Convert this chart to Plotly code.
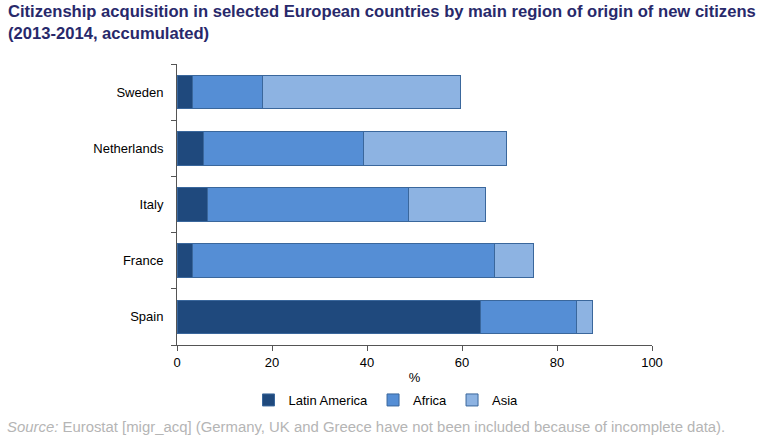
import plotly.graph_objects as go

countries = ["Spain", "France", "Italy", "Netherlands", "Sweden"]
latin_america = [63.8, 3.2, 6.5, 5.5, 3.2]
africa = [20.3, 63.6, 42.2, 33.7, 14.7]
asia = [3.3, 8.3, 16.3, 30.1, 41.8]
x_ticks = [0, 20, 40, 60, 80, 100]

series = [
    ("Latin America", latin_america, "#1f497d"),
    ("Africa", africa, "#558ed5"),
    ("Asia", asia, "#8db3e2"),
]

# plot area, in page pixels (body margin removed below)
L, T = 177, 64
PW, PH = 475, 281
R, B = 763 - L - PW, 436 - T - PH


def px_x(sx):
    return (sx - L) / PW


def px_y(sy):
    return 1 - (sy - T) / PH


fig = go.Figure()
for name, vals, color in series:
    fig.add_trace(go.Bar(
        y=countries, x=vals, name=name, orientation="h",
        marker=dict(color=color, line=dict(color="#3a679c", width=1)),
    ))

fig.update_layout(
    barmode="stack",
    bargap=0.4,
    width=763, height=436,
    margin=dict(l=L, r=R, t=T, b=B, autoexpand=False),
    paper_bgcolor="white", plot_bgcolor="white",
    font=dict(family="Liberation Sans, Arial, sans-serif", size=13, color="black"),
    showlegend=True,
    legend=dict(
        orientation="h", x=px_x(386), xanchor="center",
        y=px_y(400), yanchor="middle",
        font=dict(size=13), traceorder="normal",
        itemwidth=30, tracegroupgap=0,
    ),
    xaxis=dict(
        range=[0, 100], tickvals=x_ticks, showgrid=False,
        showline=True, linecolor="#555555", linewidth=1,
        ticks="outside", ticklen=5, tickcolor="#555555",
        title=dict(text="%", standoff=4, font=dict(size=13)),
        zeroline=False,
    ),
    yaxis=dict(
        showgrid=False, showline=True, linecolor="#555555", linewidth=1,
        ticks="outside", ticklen=5, tickcolor="#555555",
        tickson="boundaries", ticklabelstandoff=10,
    ),
    annotations=[
        dict(
            text="<b>Citizenship acquisition in selected European countries by main region of origin of new citizens<br>(2013-2014, accumulated)</b>",
            xref="paper", yref="paper", x=px_x(6), y=px_y(0),
            xanchor="left", yanchor="top", align="left", showarrow=False,
            font=dict(family="Liberation Sans, Arial, sans-serif", size=16.6, color="#28296b"),
        ),
        dict(
            text="<i>Source:</i> Eurostat [migr_acq] (Germany, UK and Greece have not been included because of incomplete data).",
            xref="paper", yref="paper", x=px_x(5), y=px_y(427),
            xanchor="left", yanchor="middle", showarrow=False, align="left",
            font=dict(family="Liberation Sans, Arial, sans-serif", size=14.9, color="#b5b5b5"),
        ),
    ],
)

fig.write_html("out.html", config={"displayModeBar": False},
               post_script="document.body.style.margin='0';")
